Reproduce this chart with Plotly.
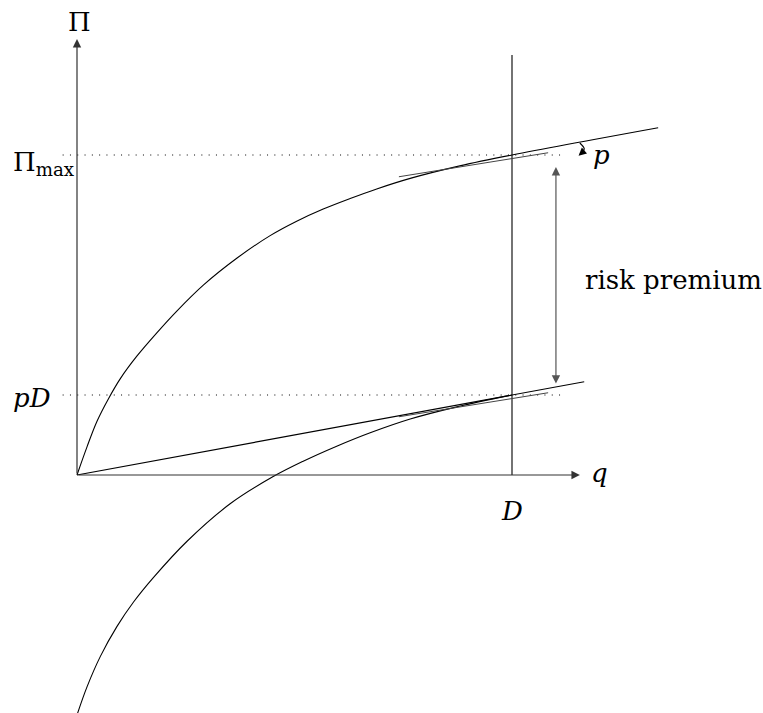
import plotly.graph_objects as go

# Model constants (units: q in multiples of D, profit in multiples of Pi_max)
D = 1.0
P = 0.25
PI_MAX = 1.0

# Certain-profit curve Pi(q)
Q_UPPER = [0.0, 0.023, 0.046, 0.073, 0.100, 0.138, 0.184, 0.230, 0.291, 0.368,
           0.444, 0.505, 0.566, 0.628, 0.689, 0.766, 0.880, 1.000, 1.336]
PI_UPPER = [0.0, 0.088, 0.168, 0.240, 0.302, 0.372, 0.445, 0.513, 0.594, 0.678,
            0.748, 0.793, 0.831, 0.864, 0.894, 0.927, 0.966, 1.000, 1.085]

# Same curve shifted down by the risk premium
Q_LOWER = [0.0, 0.023, 0.054, 0.092, 0.130, 0.176, 0.253, 0.352, 0.451,
           0.520, 0.597, 0.674, 0.766, 0.873, 1.000]
PI_LOWER = [-0.750, -0.662, -0.566, -0.473, -0.397, -0.320, -0.207, -0.090, -0.005,
            0.043, 0.090, 0.132, 0.175, 0.213, 0.250]

# Tangent segments near q = D
TANGENT_Q = [0.74, 1.083]
TANGENT_UPPER = [0.932, 1.007]
TANGENT_LOWER = [0.182, 0.257]

# Extents of guide lines
Q_LINE_END = 1.166      # end of the ray Pi = p*q
Q_AXIS_END = 1.156      # tip of the q axis
PI_AXIS_END = 1.3625    # tip of the Pi axis
PI_D_TOP = 1.3125       # top of the vertical line at q = D
DOT_START = -0.033
DOT_END = 1.116
PREMIUM_Q = 1.101

X_RANGE = [-77 / 435, 686 / 435]
Y_RANGE = [-238 / 320, 475 / 320]

FONT = "DejaVu Serif"
FS = 26
INK = "black"
AXIS = "#333333"
GREY = "#555555"

fig = go.Figure()

def seg(x, y, color=INK, width=1.1, dash=None, shape="linear"):
    fig.add_trace(go.Scatter(
        x=x, y=y, mode="lines", hoverinfo="skip", showlegend=False,
        line=dict(color=color, width=width, dash=dash, shape=shape, smoothing=1.0),
        cliponaxis=True))

# dotted guides at Pi_max and pD
seg([DOT_START, DOT_END], [PI_MAX, PI_MAX], color=INK, width=1, dash="1px,6.3px")
seg([DOT_START, DOT_END], [P * D, P * D], color=INK, width=1, dash="1px,6.3px")

# vertical line at q = D
seg([D, D], [0, PI_D_TOP], color=INK, width=1.1)

# curves
seg(Q_UPPER, PI_UPPER, shape="spline")
seg(Q_LOWER, PI_LOWER, shape="spline")

# ray from the origin with slope p
seg([0, Q_LINE_END], [0, P * Q_LINE_END], width=1.2)

# tangents
seg(TANGENT_Q, TANGENT_UPPER, color="#444444", width=1)
seg(TANGENT_Q, TANGENT_LOWER, color="#444444", width=1)

annotations = []

def arrow(x_head, y_head, x_tail, y_tail, color=AXIS, width=1.2, side="end", size=1.4):
    annotations.append(dict(
        x=x_head, y=y_head, ax=x_tail, ay=y_tail, xref="x", yref="y",
        axref="x", ayref="y", text="", showarrow=True, arrowhead=2,
        arrowsize=size, arrowwidth=width, arrowcolor=color, arrowside=side,
        standoff=0, startstandoff=0))

# axes
arrow(Q_AXIS_END, 0, 0, 0)
arrow(0, PI_AXIS_END, 0, 0)

# risk premium double arrow
arrow(PREMIUM_Q, PI_MAX - 0.0375, PREMIUM_Q, P * D + 0.031, color=GREY,
      width=1.2, side="end+start")

# small slope marker next to p
seg([1.156, 1.166, 1.163], [1.0375, 1.020, 1.010], color=INK, width=1.2, shape="spline")
arrow(1.153, 0.998, 1.163, 1.010, color=INK, width=1.2, size=1.3)

def label(text, x, y, xanchor="center", yanchor="middle", size=FS):
    annotations.append(dict(
        x=x, y=y, xref="x", yref="y", text=text, showarrow=False,
        xanchor=xanchor, yanchor=yanchor,
        font=dict(family=FONT, size=size, color=INK)))

label("Π", 0.005, 1.416)
label("Π<sub>max</sub>", 0.0, 0.975, xanchor="right")
label("<i>pD</i>", -0.055, 0.24, xanchor="right")
label("<i>q</i>", 1.202, 0.005)
label("<i>D</i>", D, -0.1125)
label("<i>p</i>", 1.205, 1.0)
label("risk premium", 1.163, 0.609, xanchor="left")

fig.update_layout(
    width=763, height=713,
    margin=dict(l=0, r=0, t=0, b=0),
    paper_bgcolor="white", plot_bgcolor="white",
    font=dict(family=FONT),
    xaxis=dict(range=X_RANGE, visible=False, fixedrange=True),
    yaxis=dict(range=Y_RANGE, visible=False, fixedrange=True),
    annotations=annotations,
    showlegend=False,
)

fig.write_html("out.html")
